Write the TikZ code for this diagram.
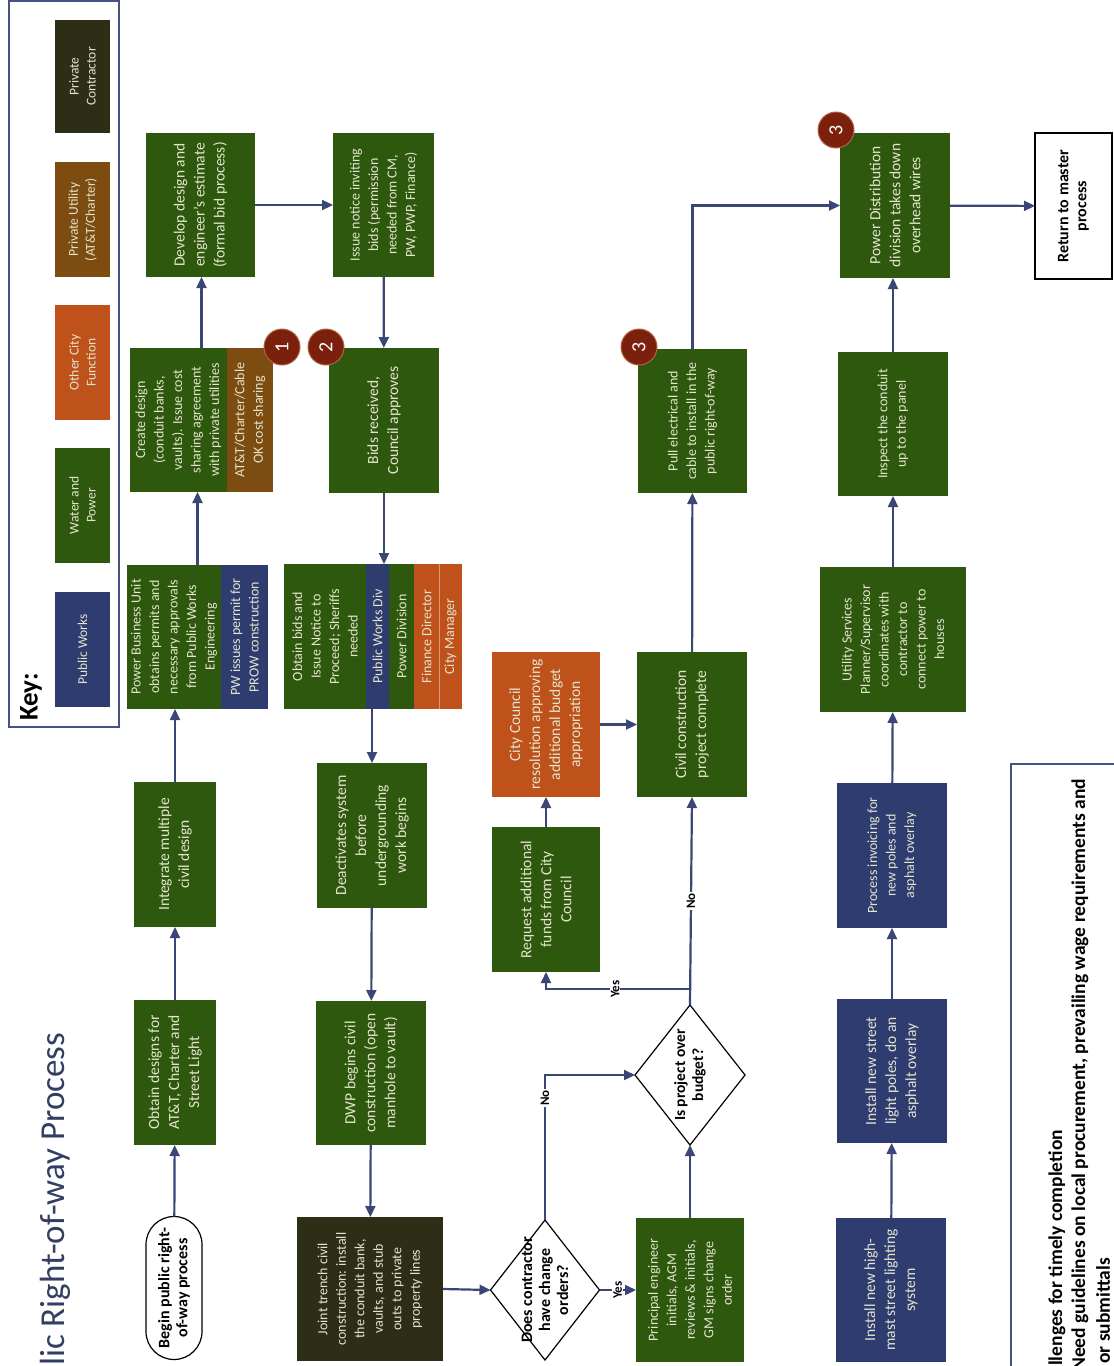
\documentclass[tikz,border=0pt]{standalone}
\usepackage{fontspec}
\setmainfont{Carlito}
\usetikzlibrary{shapes.geometric,arrows.meta}
\definecolor{wp}{RGB}{46,88,14}
\definecolor{pw}{RGB}{46,60,112}
\definecolor{oc}{RGB}{190,82,26}
\definecolor{pu}{RGB}{124,76,16}
\definecolor{pc}{RGB}{46,46,22}
\definecolor{arrc}{RGB}{58,70,118}
\definecolor{btxt}{RGB}{228,228,205}
\definecolor{badgec}{RGB}{122,32,12}
\definecolor{badgerim}{RGB}{175,100,70}
\definecolor{ttl}{RGB}{52,62,98}
\definecolor{keyline}{RGB}{70,80,130}
\newcommand\mybox[8][]{\node[box,fill=#7,minimum width={(#6)-(#5)},minimum height={(#4)-(#3)},#1] (#2) at ({((#3)+(#4))/2},{((#5)+(#6))/2}) {#8};}
\newcommand\myghost[5]{\node[ghost,minimum width={(#5)-(#4)},minimum height={(#3)-(#2)}] (#1) at ({((#2)+(#3))/2},{((#4)+(#5))/2}) {};}
\begin{document}
\begin{tikzpicture}[x=1pt,y=-1pt,
  box/.style={rotate=90,inner sep=0pt,outer sep=0pt,align=center,text=btxt,font=\fontsize{15.5}{20}\selectfont},
  dense/.style={font=\fontsize{14}{18.5}\selectfont},
  swatch/.style={font=\fontsize{13.5}{17}\selectfont},
  ghost/.style={rotate=90,inner sep=0pt,outer sep=0pt,draw=none},
  term/.style={rotate=90,draw=black,line width=1.2pt,fill=white,align=center,outer sep=0pt,inner sep=0pt,font=\bfseries\fontsize{16}{18}\selectfont},
  dia/.style={diamond,rotate=90,draw=black,line width=1.2pt,fill=white,inner sep=0pt,outer sep=0pt},
  diatext/.style={rotate=90,align=center,inner sep=0pt,font=\bfseries\fontsize{16}{18}\selectfont},
  lbl/.style={rotate=90,fill=white,inner sep=1pt,font=\bfseries\fontsize{13}{13}\selectfont},
  badge/.style={circle,rotate=90,fill=badgec,draw=badgerim,line width=1pt,minimum size=36pt,inner sep=0pt,text=white,font=\fontsize{20}{20}\selectfont},
  arr/.style={draw=arrc,line width=2.2pt,-{Triangle[length=11pt,width=10pt]}},
  chal/.style={rotate=90,anchor=west,inner sep=0pt,font=\bfseries\fontsize{19.5}{19.5}\selectfont},
]
\useasboundingbox (0,0) rectangle (1114,1366);
\clip (0,0) rectangle (1114,1366);
\fill[white] (0,0) rectangle (1114,1366);

% title
\node[rotate=90,anchor=west,inner sep=0pt,text=ttl,font=\fontsize{35}{35}\selectfont] (title) at (55,1366) {lic Right-of-way Process};

% key
\draw[keyline,line width=1.5pt] (9,1) rectangle (119,727);
\mybox[swatch]{kpc}{55}{110}{20}{133}{pc}{Private\\Contractor}
\mybox[swatch]{kpu}{55}{110}{162}{277}{pu}{Private Utility\\(AT\&T/Charter)}
\mybox[swatch]{koc}{55}{110}{305}{420}{oc}{Other City\\Function}
\mybox[swatch]{kwp}{55}{110}{448}{563}{wp}{Water and\\Power}
\mybox[swatch]{kpw}{55}{110}{592}{707}{pw}{Public Works}
\node[rotate=90,inner sep=0pt,font=\bfseries\fontsize{27}{27}\selectfont] (keyt) at (31,697) {Key:};

% column 1
\node[term,rounded corners=28pt,minimum width=143pt,minimum height=56pt] (begin) at (174,1288) {Begin public right-\\of-way process};
\mybox{obtd}{134}{216}{1000}{1145}{wp}{Obtain designs for\\AT\&T, Charter and\\Street Light}
\mybox{integ}{134}{216}{782}{927}{wp}{Integrate multiple\\civil design}
\myghost{pb}{127}{268}{565}{709}
\mybox[dense]{pb1}{127}{221}{565}{709}{wp}{Power Business Unit\\obtains permits and\\necessary approvals\\from Public Works\\Engineering}
\mybox[dense]{pb2}{221}{268}{565}{709}{pw}{PW issues permit for\\PROW construction}
\myghost{cr}{130}{273}{348}{492}
\mybox[dense]{cr1}{130}{227}{348}{492}{wp}{Create design\\(conduit banks,\\vaults). Issue cost\\sharing agreement\\with private utilities}
\mybox[dense]{cr2}{227}{273}{348}{492}{pu}{AT\&T/Charter/Cable\\OK cost sharing}
\mybox{devel}{146}{255}{133}{277}{wp}{Develop design and\\engineer's estimate\\(formal bid process)}

% column 2
\mybox[dense]{issue}{333}{434}{133}{277}{wp}{Issue notice inviting\\bids (permission\\needed from CM,\\PW, PWP, Finance)}
\mybox{bids}{329}{439}{348}{493}{wp}{Bids received,\\Council approves}
\myghost{ob}{284}{462}{564}{709}
\mybox[dense]{ob1}{284}{366}{564}{709}{wp}{Obtain bids and\\Issue Notice to\\Proceed; Sheriffs\\needed}
\mybox[dense]{ob2}{366}{389}{564}{709}{pw}{Public Works Div}
\mybox[dense]{ob3}{389}{414}{564}{709}{wp}{Power Division}
\mybox[dense]{ob4}{414}{439}{564}{709}{oc}{Finance Director}
\mybox[dense]{ob5}{439}{462}{564}{709}{oc}{City Manager}
\draw[oc!60!white,line width=0.6pt] (ob4.south west) -- (ob4.south east);
\mybox{deact}{317}{427}{763}{908}{wp}{Deactivates system\\before\\undergrounding\\work begins}
\mybox{dwp}{316}{426}{1001}{1145}{wp}{DWP begins civil\\construction (open\\manhole to vault)}
\mybox[dense]{joint}{297}{443}{1217}{1361}{pc}{Joint trench civil\\construction: install\\the conduit bank,\\vaults, and stub\\outs to private\\property lines}

% column 3
\node[dia,minimum width=140pt,minimum height=109pt] (d1) at (545,1290) {};
\node[diatext] (d1t) at (545,1290) {Does contractor\\have change\\orders?};
\mybox{request}{492}{600}{827}{972}{wp}{Request additional\\funds from City\\Council}
\mybox{council}{492}{600}{652}{797}{oc}{City Council\\resolution approving\\additional budget\\appropriation}

% column 4
\mybox[dense]{princ}{636}{744}{1218}{1362}{wp}{Principal engineer\\initials, AGM\\reviews \& initials,\\GM signs change\\order}
\node[dia,minimum width=140pt,minimum height=110pt] (d2) at (690,1075) {};
\node[diatext,font=\bfseries\fontsize{15.5}{18}\selectfont] (d2t) at (690,1075) {Is project over\\budget?};
\mybox{civil}{637}{747}{652}{797}{wp}{Civil construction\\project complete}
\mybox[dense]{pull}{638}{747}{349}{493}{wp}{Pull electrical and\\cable to install in the\\public right-of-way}

% column 5
\mybox{hmast}{836}{946}{1218}{1362}{pw}{Install new high-\\mast street lighting\\system}
\mybox{poles}{837}{947}{999}{1143}{pw}{Install new street\\light poles, do an\\asphalt overlay}
\mybox[dense]{invoice}{837}{947}{783}{928}{pw}{Process invoicing for\\new poles and\\asphalt overlay}
\mybox[dense]{util}{820}{966}{567}{712}{wp}{Utility Services\\Planner/Supervisor\\coordinates with\\contractor to\\connect power to\\houses}
\mybox[dense]{inspect}{838}{948}{352}{496}{wp}{Inspect the conduit\\up to the panel}
\mybox{pdist}{840}{950}{133}{278}{wp}{Power Distribution\\division takes down\\overhead wires}
\node[term,minimum width=146pt,minimum height=77pt] (ret) at (1073.5,206) {Return to master\\process};

% challenges
\draw[keyline,line width=1.2pt] (1011,1370) -- (1011,764) -- (1120,764);
\node[chal] (c1) at (1057,1366) {llenges for timely completion};
\node[chal] (c2) at (1080,1371) {Need guidelines on local procurement, prevailing wage requirements and};
\node[chal] (c3) at (1103,1364) {or submittals};

% connectors
\draw[arr] (begin) -- (obtd);
\draw[arr] (obtd) -- (integ);
\draw[arr] (integ.east) -- (integ.east |- pb.west);
\draw[arr] (pb.east) -- (pb.east |- cr.west);
\draw[arr] (cr.east) -- (cr.east |- devel.west);
\draw[arr] (devel) -- (issue);
\draw[arr] (issue) -- (bids);
\draw[arr] (bids.west) -- (bids.west |- ob.east);
\draw[arr] (deact.east |- ob.west) -- (deact.east);
\draw[arr] (deact) -- (dwp);
\draw[arr] (dwp) -- (joint);
\draw[arr] (joint.south) -- (d1.north);
\draw[arr] (d1.south) -- node[lbl]{Yes} (princ.north);
\draw[arr] (d1.east) |- node[lbl,pos=0.42]{No} (d2.north);
\draw[arr] (princ) -- (d2);
\draw[arr] (d2.east) -- node[lbl]{No} (civil.west);
\coordinate (yj) at (690,989);
\draw[arr] (yj) -| node[lbl,pos=0.26]{Yes} (request.west);
\draw[arr] (request) -- (council);
\draw[arr] (council) -- (civil);
\draw[arr] (civil) -- (pull);
\draw[arr] (pull.east) |- (pdist.north);
\draw[arr] (hmast) -- (poles);
\draw[arr] (poles) -- (invoice);
\draw[arr] (invoice) -- (util);
\draw[arr] (util) -- (inspect);
\draw[arr] (inspect.east) -- (inspect.east |- pdist.west);
\draw[arr] (pdist) -- (ret);

% badges
\node[badge] (b1) at (282,347) {1};
\node[badge] (b2) at (326,347) {2};
\node[badge] (b3a) at (639,347) {3};
\node[badge] (b3b) at (836,130) {3};
\end{tikzpicture}
\end{document}
